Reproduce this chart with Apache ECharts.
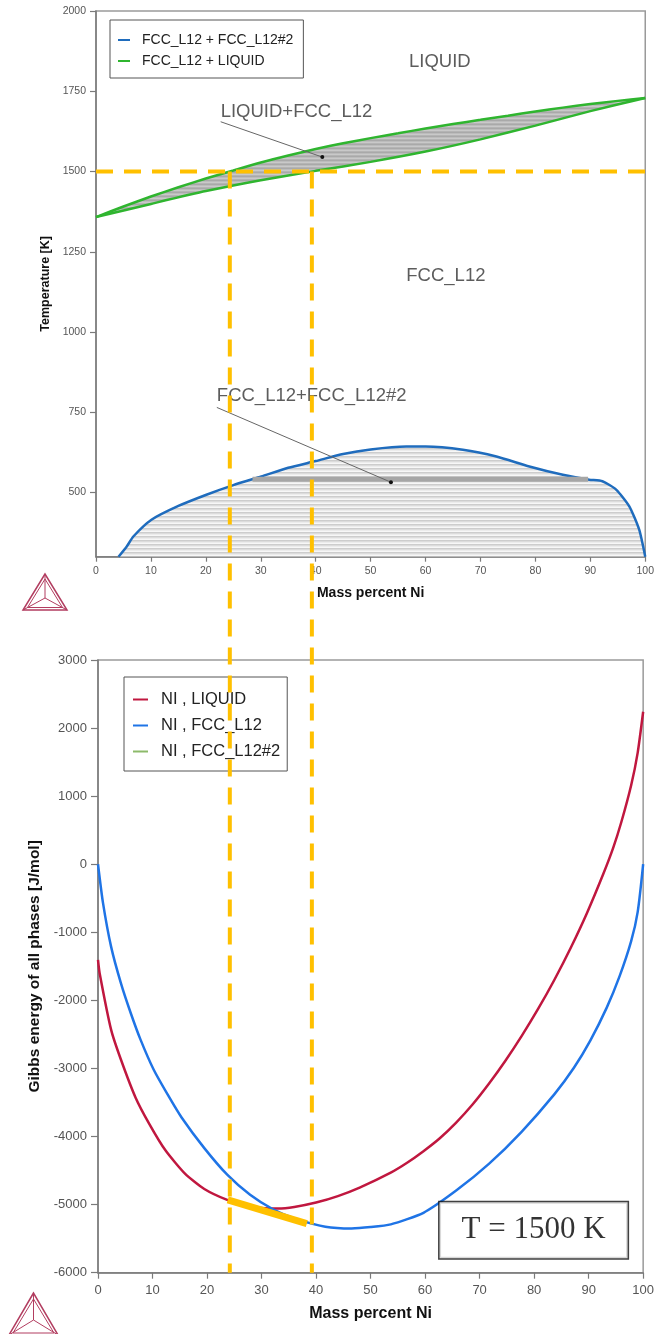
<!DOCTYPE html>
<html>
<head>
<meta charset="utf-8">
<script src="https://cdn.jsdelivr.net/npm/echarts@6/dist/echarts.min.js"></script>
<style>
  html, body { margin: 0; padding: 0; background: #fff; }
  #chart { width: 657px; height: 1334px; }
</style>
</head>
<body>
<div id="chart"></div>
<script>
// Cu–Ni: phase diagram (top) and Gibbs energy of the phases at 1500 K (bottom)

// ---- axes ----
const massPctMin = 0, massPctMax = 100, massPctStep = 10;
const tempMin = 300, tempMax = 2000;
const tempTicks = [500, 750, 1000, 1250, 1500, 1750, 2000];
const gibbsMin = -6000, gibbsMax = 3000, gibbsStep = 1000;

// ---- phase diagram: [mass % Ni, T in K] ----
const liquidus = [
  [0, 1358], [5, 1391], [10, 1422], [15, 1451], [20, 1478], [25, 1503], [30, 1528],
  [35, 1550], [40, 1570], [45, 1588], [50, 1604], [55, 1619], [60, 1634], [65, 1648],
  [70, 1661], [75, 1674], [80, 1687], [85, 1699], [90, 1710], [95, 1720], [100, 1729]
];
const solidus = [
  [0, 1358], [10, 1399], [20, 1439], [30, 1473], [40, 1502], [50, 1530],
  [60, 1562], [70, 1600], [80, 1643], [90, 1688], [100, 1729]
];
const fccGapBoundary = [
  [4.1, 300], [5.6, 332], [6.8, 363], [10.1, 415], [15, 458], [20.1, 493], [25, 523],
  [30.1, 550], [35, 577], [40, 598], [45, 620], [50, 634], [56.5, 643], [60, 643],
  [66.8, 633], [72.9, 612], [78.9, 581], [85, 555], [89.8, 540], [92.2, 535],
  [94.7, 509], [97.1, 457], [98.9, 384], [100, 300]
];
const gapDenseTieLines = [[28.5, 541], [89.6, 541]];

// phase region labels: [mass % Ni, T, text, alignment]
const phaseLabels = [
  [62.6, 1841, 'LIQUID', 'center'],
  [22.7, 1685, 'LIQUID+FCC_L12', 'left'],
  [63.7, 1175, 'FCC_L12', 'center'],
  [22.0, 801, 'FCC_L12+FCC_L12#2', 'left']
];
const pointerLens = [[22.7, 1655], [41.2, 1545]];
const pointerGap = [[22.0, 765], [53.7, 532]];

// ---- isothermal section: [mass % Ni, G in J/mol] ----
const isoTemp = 1500;
const tieLineEnds = [24.3, 39.2];            // liquid / FCC compositions at isoTemp
const gLiquid = [
  [0, -1405], [0.3, -1600], [2.4, -2429], [4.2, -2868], [6.9, -3429], [9.4, -3813],
  [12.4, -4206], [16, -4549], [19.5, -4770], [23.7, -4931], [27, -5010], [30, -5048],
  [33, -5058], [36, -5035], [40, -4970], [44, -4875], [48, -4750], [53.7, -4530],
  [56.7, -4385], [59.7, -4215], [62.7, -4025], [65.7, -3795], [68.7, -3530], [71.7, -3225],
  [74.7, -2890], [77.7, -2525], [80.7, -2130], [83.7, -1700], [86.7, -1230], [89.7, -715],
  [92.7, -140], [94.5, 240], [96, 620], [97.8, 1160], [99, 1640], [100, 2240]
];
const gFcc = [
  [0, 0], [0.9, -560], [2.4, -1210], [4.2, -1746], [6, -2185], [7.8, -2576], [10.2, -3015],
  [12.9, -3400], [15.3, -3716], [19.5, -4170], [23.7, -4560], [27.9, -4855], [32.1, -5068],
  [36.3, -5210], [41.7, -5324], [46.5, -5350], [50, -5330], [53.7, -5290], [59.7, -5120],
  [65.7, -4794], [71.7, -4402], [77.7, -3930], [83.7, -3380], [87.3, -2990], [90.3, -2590],
  [93.3, -2110], [95.7, -1640], [97.8, -1130], [99, -700], [100, 0]
];
const commonTangent = [[23.8, -4931], [38.3, -5280]];
const isoLabelAt = [79.9, -5378];

// ---- layout ----
const W = 657, H = 1334;
const topGrid = { left: 96, top: 11, width: 550.7, height: 545.7 };
const botGrid = { left: 98, top: 660, width: 556, height: 612.7 };
const isoTop = topGrid.top + (tempMax - isoTemp) / (tempMax - tempMin) * topGrid.height;
const overlayGrid = {
  left: topGrid.left, width: topGrid.width,
  top: isoTop, height: botGrid.top + botGrid.height - isoTop
};

const FONT = 'Liberation Sans, Arial, sans-serif';
const ORANGE = '#FFC000';
const AXIS_GREY = '#7a7a7a';
const plain = v => String(v);

function stripes(colors) {
  const c = document.createElement('canvas');
  c.width = 4; c.height = colors.length;
  const g = c.getContext('2d');
  colors.forEach((col, i) => { g.fillStyle = col; g.fillRect(0, i, 4, 1); });
  return { image: c, repeat: 'repeat' };
}
const lensFill = stripes(['#a9a9a9', '#bcbcbc', '#c9c9c9', '#b4b4b4']);
const gapFill = stripes(['#cdcdcd', '#dcdcdc', '#ececec', '#f7f7f7']);

const lensOutline = liquidus.concat(solidus.slice().reverse());

function valueAxisX(gridIndex, fontSize, margin, nameSize, nameGap, tickLen) {
  return {
    type: 'value', gridIndex, min: massPctMin, max: massPctMax, interval: massPctStep,
    name: 'Mass percent Ni', nameLocation: 'middle', nameGap,
    nameTextStyle: { fontFamily: FONT, fontWeight: 'bold', fontSize: nameSize, color: '#111' },
    axisLine: { show: true, onZero: false, lineStyle: { color: AXIS_GREY, width: 1.5 } },
    axisTick: { show: true, length: tickLen, lineStyle: { color: AXIS_GREY, width: 1.2 } },
    axisLabel: { fontFamily: FONT, fontSize, color: '#555', margin, formatter: plain },
    splitLine: { show: false }
  };
}

const legendBase = {
  orient: 'vertical', borderColor: '#555', borderWidth: 1, backgroundColor: '#fff',
  selectedMode: false, itemStyle: { opacity: 0 }
};

const chart = echarts.init(document.getElementById('chart'), null, { renderer: 'canvas', width: W, height: H });

chart.setOption({
  animation: false,
  backgroundColor: '#fff',
  grid: [
    Object.assign({ show: true, borderColor: '#9a9a9a', borderWidth: 1.5, containLabel: false }, topGrid),
    Object.assign({ show: true, borderColor: '#9a9a9a', borderWidth: 1.5, containLabel: false }, botGrid),
    Object.assign({ show: false, containLabel: false }, overlayGrid)
  ],
  xAxis: [
    valueAxisX(0, 10.5, 9, 14, 29, 5),
    valueAxisX(1, 13, 11, 16, 33, 6),
    { type: 'value', gridIndex: 2, min: massPctMin, max: massPctMax, show: false }
  ],
  yAxis: [
    {
      type: 'value', gridIndex: 0, min: tempMin, max: tempMax,
      name: 'Temperature [K]', nameLocation: 'middle', nameRotate: 90, nameGap: 43,
      nameTextStyle: { fontFamily: FONT, fontWeight: 'bold', fontSize: 12.5, color: '#111' },
      axisLine: { show: true, onZero: false, lineStyle: { color: AXIS_GREY, width: 1.5 } },
      axisTick: { show: true, length: 6, customValues: tempTicks, lineStyle: { color: AXIS_GREY, width: 1.2 } },
      axisLabel: { fontFamily: FONT, fontSize: 10.5, color: '#555', margin: 10, customValues: tempTicks, formatter: plain },
      splitLine: { show: false }
    },
    {
      type: 'value', gridIndex: 1, min: gibbsMin, max: gibbsMax, interval: gibbsStep,
      name: 'Gibbs energy of all phases [J/mol]', nameLocation: 'middle', nameRotate: 90, nameGap: 50,
      nameTextStyle: { fontFamily: FONT, fontWeight: 'bold', fontSize: 15.5, color: '#111' },
      axisLine: { show: true, onZero: false, lineStyle: { color: AXIS_GREY, width: 1.5 } },
      axisTick: { show: true, length: 7, lineStyle: { color: AXIS_GREY, width: 1.2 } },
      axisLabel: { fontFamily: FONT, fontSize: 13, color: '#555', margin: 11, formatter: plain },
      splitLine: { show: false }
    },
    { type: 'value', gridIndex: 2, min: 0, max: 1, show: false }
  ],
  legend: [
    Object.assign({}, legendBase, {
      data: ['FCC_L12 + FCC_L12#2', 'FCC_L12 + LIQUID'],
      left: 110, top: 20, padding: [13, 10, 10, 7],
      itemWidth: 12, itemHeight: 14, itemGap: 7,
      textStyle: { fontFamily: FONT, fontSize: 14, lineHeight: 14, color: '#222', padding: [0, 0, 0, 7] }
    }),
    Object.assign({}, legendBase, {
      data: ['NI , LIQUID', 'NI , FCC_L12', 'NI , FCC_L12#2'],
      left: 124, top: 677, padding: [14, 7, 11, 8],
      itemWidth: 15, itemHeight: 16, itemGap: 9,
      textStyle: { fontFamily: FONT, fontSize: 16.5, lineHeight: 16.5, color: '#222', padding: [0, 0, 0, 8] }
    })
  ],
  graphic: [
    // Thermo-Calc style logo marks
    { type: 'polygon', shape: { points: [[45, 574], [23, 610], [67, 610]] }, style: { fill: 'none', stroke: '#b23d60', lineWidth: 1.5 } },
    { type: 'polygon', shape: { points: [[45, 579], [27.5, 607.5], [62.5, 607.5]] }, style: { fill: 'none', stroke: '#b23d60', lineWidth: 1 } },
    { type: 'polyline', shape: { points: [[45, 574], [45, 598], [23, 610]] }, style: { fill: 'none', stroke: '#b23d60', lineWidth: 1 } },
    { type: 'line', shape: { x1: 45, y1: 598, x2: 67, y2: 610 }, style: { stroke: '#b23d60', lineWidth: 1 } },
    { type: 'polygon', shape: { points: [[33.5, 1293], [9, 1335], [58, 1335]] }, style: { fill: 'none', stroke: '#b23d60', lineWidth: 1.5 } },
    { type: 'polygon', shape: { points: [[33.5, 1299], [13, 1333], [54, 1333]] }, style: { fill: 'none', stroke: '#b23d60', lineWidth: 1 } },
    { type: 'polyline', shape: { points: [[33.5, 1293], [33.5, 1320], [9, 1335]] }, style: { fill: 'none', stroke: '#b23d60', lineWidth: 1 } },
    { type: 'line', shape: { x1: 33.5, y1: 1320, x2: 58, y2: 1335 }, style: { stroke: '#b23d60', lineWidth: 1 } }
  ],
  series: [
    // two-phase lens (liquid + fcc), hatched
    {
      type: 'custom', xAxisIndex: 0, yAxisIndex: 0, z: 1, silent: true, clip: true,
      data: [0],
      renderItem: (params, api) => ({
        type: 'polygon',
        shape: { points: lensOutline.map(p => api.coord(p)) },
        style: { fill: lensFill, stroke: null }
      })
    },
    // fcc miscibility gap, boundary with hatched interior
    {
      name: 'FCC_L12 + FCC_L12#2', type: 'line', xAxisIndex: 0, yAxisIndex: 0, z: 3,
      data: fccGapBoundary, symbol: 'none', smooth: 0.2, clip: true,
      lineStyle: { color: '#1f6cbd', width: 2.5 },
      itemStyle: { color: '#1f6cbd' },
      areaStyle: { origin: 'start', color: gapFill, opacity: 1 }
    },
    {
      type: 'line', xAxisIndex: 0, yAxisIndex: 0, z: 4, silent: true,
      data: gapDenseTieLines, symbol: 'none',
      lineStyle: { color: '#a6a6a6', width: 5, cap: 'butt' }
    },
    {
      name: 'FCC_L12 + LIQUID', type: 'line', xAxisIndex: 0, yAxisIndex: 0, z: 3,
      data: liquidus, symbol: 'none', smooth: 0.2,
      lineStyle: { color: '#2fb52f', width: 2.5 }, itemStyle: { color: '#2fb52f' }
    },
    {
      name: 'FCC_L12 + LIQUID', type: 'line', xAxisIndex: 0, yAxisIndex: 0, z: 3,
      data: solidus, symbol: 'none', smooth: 0.2,
      lineStyle: { color: '#2fb52f', width: 2.5 }, itemStyle: { color: '#2fb52f' }
    },
    // pointers from region labels
    ...[pointerLens, pointerGap].map(seg => ({
      type: 'line', xAxisIndex: 0, yAxisIndex: 0, z: 5, silent: true,
      data: seg, symbol: 'circle', showSymbol: true,
      symbolSize: (v, p) => (p.dataIndex === seg.length - 1 ? 4 : 0),
      lineStyle: { color: '#666', width: 1 }, itemStyle: { color: '#111' }
    })),
    // phase region labels
    {
      type: 'scatter', xAxisIndex: 0, yAxisIndex: 0, z: 5, silent: true, symbolSize: 0,
      data: phaseLabels.map(([x, t, text, align]) => ({ name: text, value: [x, t], label: { align } })),
      label: { show: true, position: 'inside', formatter: '{b}', fontFamily: FONT, fontSize: 18.5, color: '#333' }
    },
    // isotherm
    {
      type: 'line', xAxisIndex: 0, yAxisIndex: 0, z: 10, silent: true,
      data: [[massPctMin, isoTemp], [massPctMax, isoTemp]], symbol: 'none',
      lineStyle: { color: ORANGE, width: 4, type: [17, 11], cap: 'butt' }
    },

    // ---- Gibbs energy curves ----
    {
      name: 'NI , LIQUID', type: 'line', xAxisIndex: 1, yAxisIndex: 1, z: 3,
      data: gLiquid, symbol: 'none', smooth: 0.2,
      lineStyle: { color: '#c0173f', width: 2.5 }, itemStyle: { color: '#c0173f' }
    },
    {
      name: 'NI , FCC_L12', type: 'line', xAxisIndex: 1, yAxisIndex: 1, z: 3,
      data: gFcc, symbol: 'none', smooth: 0.2,
      lineStyle: { color: '#1f74e6', width: 2.5 }, itemStyle: { color: '#1f74e6' }
    },
    {
      name: 'NI , FCC_L12#2', type: 'line', xAxisIndex: 1, yAxisIndex: 1, z: 3,
      data: [], symbol: 'none',
      lineStyle: { color: '#8dba6a', width: 1 }, itemStyle: { color: '#8dba6a' }
    },
    {
      type: 'line', xAxisIndex: 1, yAxisIndex: 1, z: 6, silent: true,
      data: commonTangent, symbol: 'none',
      lineStyle: { color: ORANGE, width: 7, cap: 'butt' }
    },
    {
      type: 'scatter', xAxisIndex: 1, yAxisIndex: 1, z: 6, silent: true, symbolSize: 0,
      data: [isoLabelAt],
      label: {
        show: true, position: 'inside', formatter: `T = ${isoTemp} K`,
        fontFamily: 'Liberation Serif, Times New Roman, serif', fontSize: 31, color: '#000',
        lineHeight: 32, backgroundColor: '#fff', borderColor: '#111', borderWidth: 1.5,
        padding: [12, 22, 12, 22]
      }
    },

    // tie-line end compositions carried down to the Gibbs energy plot
    ...tieLineEnds.map(x => ({
      type: 'line', xAxisIndex: 2, yAxisIndex: 2, z: 10, silent: true,
      data: [[x, 1], [x, 0]], symbol: 'none',
      lineStyle: { color: ORANGE, width: 4, type: [17, 11], cap: 'butt' }
    }))
  ]
});
</script>
</body>
</html>
